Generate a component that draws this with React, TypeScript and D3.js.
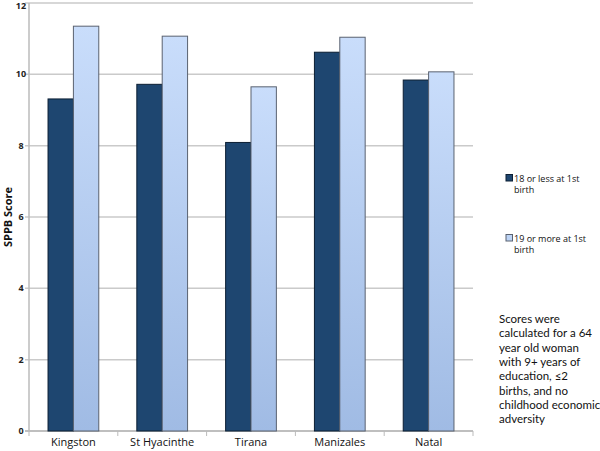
import React from 'react';
import * as d3 from 'd3';

const cities = ['Kingston', 'St Hyacinthe', 'Tirana', 'Manizales', 'Natal'];
const young = [9.31, 9.72, 8.09, 10.62, 9.84];
const older = [11.35, 11.07, 9.65, 11.04, 10.07];
const yTicks = [0, 2, 4, 6, 8, 10, 12];
const seriesNames = [['18 or less at 1st', 'birth'], ['19 or more at 1st', 'birth']];
const noteLines = [
    'Scores were',
    'calculated for a 64',
    'year old woman',
    'with 9+ years of',
    'education, \u22642',
    'births, and no',
    'childhood economic',
    'adversity',
];

export default function App() {
    const left = 29, right = 473, top = 3, bottom = 431;

    const y = d3.scaleLinear().domain([0, 12]).range([bottom, top]);
    const x = d3.scaleBand().domain(cities).range([left, right]);
    const inner = d3.scaleBand().domain(['a', 'b']).range([0, x.bandwidth()]).paddingOuter(0.75).paddingInner(0);

    const sans = 'Open Sans, Lato, sans-serif';

    return (
        <svg width={600} height={451} style={{ position: 'absolute', left: 0, top: 0, background: '#fff' }}>
            <defs>
                <linearGradient id="lightGrad" x1="0" y1="0" x2="0" y2="1">
                    <stop offset="0%" stopColor="#c9ddfb" />
                    <stop offset="100%" stopColor="#a0bbe4" />
                </linearGradient>
            </defs>

            {/* grid lines */}
            {yTicks.map(t => (
                <g key={t}>
                    <line x1={left - 4} x2={right} y1={y(t)} y2={y(t)} stroke={t === 0 ? '#aaa' : '#cacaca'} strokeWidth={1.5} />
                    <text x={21} y={Math.max(y(t) + 3, 8.5)} fontSize={9} fontWeight="bold" fill="#222" textAnchor="middle" fontFamily={sans}>{t}</text>
                </g>
            ))}
            <line x1={left} x2={left} y1={top} y2={bottom} stroke="#bbb" strokeWidth={1.5} />

            {/* x ticks */}
            {d3.range(cities.length + 1).map(i => {
                const xx = left + i * x.step();
                return <line key={i} x1={xx} x2={xx} y1={bottom} y2={bottom + 5} stroke="#bbb" strokeWidth={1} />;
            })}

            {/* bars */}
            {cities.map((c, i) => (
                <g key={c} transform={`translate(${x(c)},0)`}>
                    <rect x={inner('a')} y={y(young[i])} width={inner.bandwidth()} height={bottom - y(young[i])}
                        fill="#1e4670" stroke="#0b1e33" strokeWidth={1} />
                    <rect x={inner('b')} y={y(older[i])} width={inner.bandwidth()} height={bottom - y(older[i])}
                        fill="url(#lightGrad)" stroke="#5a6270" strokeWidth={1} />
                    <text x={x.bandwidth() / 2} y={446} fontSize={11} textAnchor="middle" fill="#111" fontFamily={sans}>{c}</text>
                </g>
            ))}

            {/* y axis label */}
            <text transform={`translate(12,${(top + bottom) / 2}) rotate(-90)`} fontSize={11} fontWeight="bold"
                textAnchor="middle" fill="#111" fontFamily={sans}>SPPB Score</text>

            {/* legend */}
            {seriesNames.map((lines, i) => {
                const ly = 181.5 + i * 60;
                return (
                    <g key={i}>
                        <rect x={506} y={ly - 7} width={6.5} height={6.5}
                            fill={i === 0 ? '#1e4670' : '#bcd3f5'} stroke={i === 0 ? '#0b1e33' : '#5a6270'} strokeWidth={1} />
                        {lines.map((l, j) => (
                            <text key={j} x={514} y={ly + j * 11.5} fontSize={9} fill="#111" fontFamily={sans}>{l}</text>
                        ))}
                    </g>
                );
            })}

            {/* note */}
            {noteLines.map((l, i) => (
                <text key={i} x={499} y={323 + i * 14.3} fontSize={11.5} fill="#111" fontFamily="Lato, sans-serif">{l}</text>
            ))}
        </svg>
    );
}
